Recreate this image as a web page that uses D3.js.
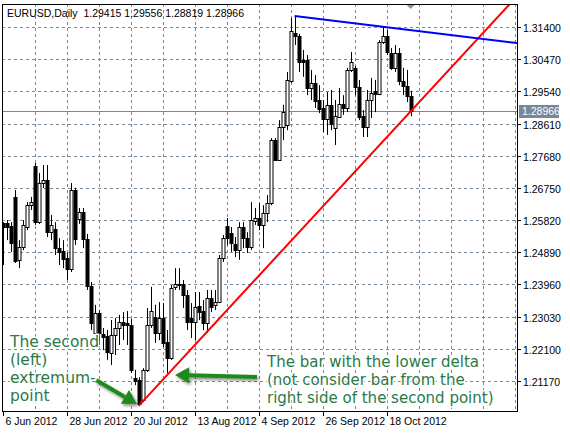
<!DOCTYPE html>
<html><head><meta charset="utf-8">
<script src="https://cdn.jsdelivr.net/npm/d3@7"></script>
<style>body{margin:0;background:#fff}svg{display:block}</style>
</head><body><svg id="c" width="570" height="433"></svg>
<script>
// OHLC per daily bar, starting 6 Jun 2012 (values x 1e-4)
const opens  = [12574,12574,12565,12649,12467,12504,12562,12625,12738,12576,12689,12698,12547,12556,12501,12493,12472,12441,12669,12585,12605,12527,12391,12256,12313,12253,12247,12198,12250,12270,12287,12284,12279,12126,12120,12062,12149,12279,12302,12256,12299,12230,12183,12389,12397,12397,12365,12299,12287,12334,12319,12284,12357,12337,12345,12472,12565,12545,12513,12496,12562,12530,12504,12579,12588,12568,12602,12631,12813,12756,12851,12857,12984,13123,13114,13045,13045,12964,12978,12929,12906,12874,12915,12848,12880,12917,12906,13016,13022,12967,12883,12851,12929,12955,12946,13097,13114,13065,13022,13065,12984,12969,12941.5];
const highs  = [12576,12582,12576,12669,12524,12582,12634,12649,12747,12718,12741,12741,12597,12576,12530,12524,12487,12689,12675,12617,12617,12542,12403,12337,12322,12270,12264,12293,12299,12308,12316,12319,12296,12149,12128,12154,12328,12389,12337,12345,12342,12264,12394,12443,12443,12409,12380,12342,12374,12374,12351,12380,12380,12380,12481,12539,12588,12562,12533,12576,12576,12547,12634,12617,12631,12625,12654,12819,12819,12871,12915,13010,13166,13172,13120,13074,13059,13016,13001,12972,12929,12952,12958,12929,12964,12943,13022,13068,13027,12987,12900,12958,12993,12987,13102,13140,13131,13079,13088,13079,13022,13016,12955.6];
const lows   = [12452,12524,12490,12458,12443,12495,12553,12611,12568,12571,12675,12533,12524,12481,12452,12443,12409,12432,12510,12571,12501,12380,12264,12250,12221,12206,12178,12163,12192,12221,12235,12221,12140,12105,12045,12056,12143,12270,12227,12235,12215,12140,12178,12380,12380,12328,12264,12241,12235,12293,12264,12256,12316,12322,12342,12461,12510,12490,12475,12467,12501,12487,12496,12568,12553,12501,12576,12625,12756,12756,12813,12842,12978,13088,13010,12996,12943,12929,12906,12891,12837,12828,12842,12799,12877,12886,12894,13010,12943,12871,12822,12822,12877,12894,12943,13091,13059,13016,13010,12972,12943,12923,12881.9];
const closes = [12562,12562,12516,12464,12504,12568,12625,12634,12576,12689,12698,12547,12568,12501,12490,12470,12441,12669,12527,12605,12527,12391,12284,12313,12256,12244,12201,12250,12270,12287,12279,12279,12149,12117,12050,12149,12279,12319,12256,12299,12227,12183,12386,12397,12394,12365,12287,12287,12331,12316,12284,12357,12331,12345,12472,12530,12530,12516,12496,12562,12530,12504,12582,12588,12568,12602,12631,12813,12756,12851,12894,12987,13128,13114,13039,13039,12964,12978,12926,12903,12874,12915,12860,12883,12917,12906,13016,13039,12967,12880,12851,12929,12949,12946,13097,13114,13068,13022,13065,12984,12969,12941,12896.6];
const priceTicks = [1.21170,1.22100,1.23030,1.23960,1.24890,1.25820,1.26750,1.27680,1.28610,1.29540,1.30470,1.31400];
const dateIdx = [0,16,32,48,64,80,96];
const dateLabels = ["6 Jun 2012","28 Jun 2012","20 Jul 2012","13 Aug 2012","4 Sep 2012","26 Sep 2012","18 Oct 2012"];
const lastPrice = 1.28966;
const redLine = [{i:34,p:1.20450},{i:126.8,p:1.32065}];
const blueLine = [{i:73,p:1.31720},{i:128.6,p:1.30937}];

const bars = opens.map((o,i)=>({i,o:o/1e4,h:highs[i]/1e4,l:lows[i]/1e4,c:closes[i]/1e4}));
const L=2,R=517,T=4,B=411;
const x=d3.scaleLinear().domain([0,128.6]).range([2.7,R]);
const y=d3.scaleLinear().domain([1.20302,1.32065]).range([B,T]);
const svg=d3.select("#c");
const grid="#778899";
svg.append("clipPath").attr("id","pc").append("rect").attr("x",L).attr("y",T).attr("width",R-L).attr("height",B-T);
const g=svg.append("g").attr("clip-path","url(#pc)");
priceTicks.forEach(p=>g.append("line").attr("x1",L).attr("x2",R).attr("y1",Math.round(y(p))+.5).attr("y2",Math.round(y(p))+.5).attr("stroke",grid).attr("stroke-dasharray","3,3"));
d3.range(8,129,8).forEach(i=>g.append("line").attr("x1",Math.round(x(i))+.5).attr("x2",Math.round(x(i))+.5).attr("y1",T).attr("y2",B).attr("stroke",grid).attr("stroke-dasharray","3,3"));
g.append("line").attr("x1",L).attr("x2",R).attr("y1",Math.round(y(lastPrice))+.5).attr("y2",Math.round(y(lastPrice))+.5).attr("stroke",grid);
bars.forEach(b=>{
  const cx=Math.round(x(b.i))+.5;
  g.append("line").attr("x1",cx).attr("x2",cx).attr("y1",y(b.h)).attr("y2",y(b.l)).attr("stroke","#000");
  const top=Math.round(y(Math.max(b.o,b.c))),bot=Math.round(y(Math.min(b.o,b.c)));
  g.append("rect").attr("x",cx-1.5).attr("y",top+.5).attr("width",3).attr("height",Math.max(1,bot-top))
   .attr("fill",b.c>=b.o?"#fff":"#000").attr("stroke","#000");
});
const ln=d3.line().x(d=>x(d.i)).y(d=>y(d.p));
g.append("path").attr("d",ln(redLine)).attr("stroke","#ff0000").attr("stroke-width",2).attr("fill","none");
g.append("path").attr("d",ln(blueLine)).attr("stroke","#0000ff").attr("stroke-width",2).attr("fill","none");
svg.append("rect").attr("x",L+.5).attr("y",T+.5).attr("width",R-L).attr("height",B-T).attr("fill","none").attr("stroke","#000");
svg.append("path").attr("d",`M${x(102)-4},${T+1}h8l-4,4z`).attr("fill","#8a96a3");
const font="Liberation Sans, Arial, sans-serif";
priceTicks.forEach(p=>{const yy=Math.round(y(p))+.5;
  svg.append("line").attr("x1",R).attr("x2",R+4).attr("y1",yy).attr("y2",yy).attr("stroke","#000");
  svg.append("text").attr("x",R+6).attr("y",yy+4).text(p.toFixed(5)).attr("font-family",font).attr("font-size","10.5px");
});
const ly=Math.round(y(lastPrice));
svg.append("rect").attr("x",R+2).attr("y",ly-6).attr("width",40).attr("height",13).attr("fill","#778899");
svg.append("text").attr("x",R+5).attr("y",ly+4).text(lastPrice.toFixed(5)).attr("font-family",font).attr("font-size","10.5px").attr("fill","#fff");
dateIdx.forEach((i,k)=>{const xx=Math.round(x(i))+.5;
  svg.append("line").attr("x1",xx).attr("x2",xx).attr("y1",B).attr("y2",B+5).attr("stroke","#000");
  svg.append("text").attr("x",xx+2).attr("y",B+14).text(dateLabels[k]).attr("font-family",font).attr("font-size","10.5px");
});
svg.append("text").attr("x",7).attr("y",17).text("EURUSD,Daily  1.29415 1.29556 1.28819 1.28966").attr("font-family",font).attr("font-size","10.5px").style("white-space","pre");
const green="#2a7a48";
const defs=svg.append("defs");
defs.append("filter").attr("id","sh").attr("filterUnits","userSpaceOnUse").attr("x",0).attr("y",0).attr("width",570).attr("height",433)
  .html('<feDropShadow dx="1.5" dy="2" stdDeviation="1.5" flood-color="#000" flood-opacity="0.45"/>');
const arrow=(x1,y1,x2,y2)=>{
  const a=Math.atan2(y2-y1,x2-x1),hl=14,hw=8;
  const bx=x2-hl*Math.cos(a),by=y2-hl*Math.sin(a);
  const px=-Math.sin(a),py=Math.cos(a);
  const ga=svg.append("g").attr("filter","url(#sh)");
  ga.append("line").attr("x1",x1).attr("y1",y1).attr("x2",bx).attr("y2",by).attr("stroke","#1e8a1e").attr("stroke-width",4);
  ga.append("path").attr("d",`M${x2},${y2}L${bx+hw*px},${by+hw*py}L${bx-hw*px},${by-hw*py}Z`).attr("fill","#1e8a1e");
};
arrow(96,380,137,404);
arrow(257,377,175,375);
const tf="DejaVu Sans, Verdana, sans-serif";
[["The second",347],["(left)",365],["extremum-",383],["point",401]].forEach(([t,yy])=>
  svg.append("text").attr("x",10).attr("y",yy).text(t).attr("font-family",tf).attr("font-size","15.5px").attr("fill",green).attr("stroke","#fff").attr("stroke-width",3).attr("paint-order","stroke"));
[["The bar with the lower delta",367],["(not consider bar from the",385],["right side of the second point)",403]].forEach(([t,yy])=>
  svg.append("text").attr("x",267).attr("y",yy).text(t).attr("font-family",tf).attr("font-size","15px").attr("fill",green).attr("stroke","#fff").attr("stroke-width",3).attr("paint-order","stroke"));
</script></body></html>
